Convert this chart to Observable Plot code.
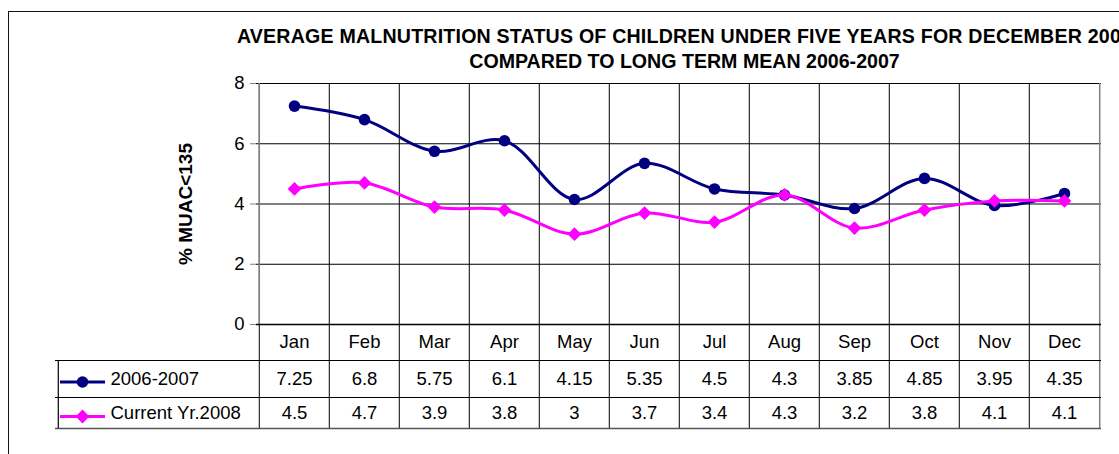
<!DOCTYPE html>
<html>
<head>
<meta charset="utf-8">
<script src="https://cdn.jsdelivr.net/npm/d3@7"></script>
<script src="https://cdn.jsdelivr.net/npm/@observablehq/plot@0.6"></script>
<style>
  html, body { margin: 0; padding: 0; background: #fff; }
  #wrap { position: relative; width: 1119px; height: 454px; overflow: hidden; background: #fff; }
  #border { position: absolute; left: 8px; top: 11px; width: 1300px; height: 600px; border: 1.5px solid #111; box-sizing: border-box; }
  #chart { position: absolute; left: 0; top: 0; }
</style>
</head>
<body>
<div id="wrap"><div id="border"></div><div id="chart"></div></div>
<script>
const months = ["Jan", "Feb", "Mar", "Apr", "May", "Jun", "Jul", "Aug", "Sep", "Oct", "Nov", "Dec"];
const longTermMean = [7.25, 6.8, 5.75, 6.1, 4.15, 5.35, 4.5, 4.3, 3.85, 4.85, 3.95, 4.35];
const currentYear = [4.5, 4.7, 3.9, 3.8, 3, 3.7, 3.4, 4.3, 3.2, 3.8, 4.1, 4.1];
const seriesNames = ["2006-2007", "Current Yr.2008"];
const seriesColors = ["#000080", "#FF00FF"];
const seriesSymbols = ["circle", "diamond2"];
const yTicks = [0, 2, 4, 6, 8];
const titleLine1 = "AVERAGE MALNUTRITION STATUS OF CHILDREN UNDER FIVE YEARS FOR DECEMBER 2008";
const titleLine2 = "COMPARED TO LONG TERM MEAN 2006-2007";
const yLabel = "% MUAC<135";

const seriesValues = [longTermMean, currentYear];
const rows = seriesNames.map((name, k) =>
  months.map((m, i) => ({series: name, month: m, value: seriesValues[k][i]}))
);

const W = 1119, H = 454;
const mL = 256, mR = 18, mT = 83, mB = 130;
const bw = (W - mL - mR) / months.length;
const font = "'Liberation Sans', Arial, sans-serif";
const fs = 18.5;

// table row offsets (below the x-axis line)
const rowLine1 = 36, rowLine2 = 73, rowLine3 = 104;
const rowText = [55, 89];
const rowSym = [57.5, 92];

const marks = [
  // horizontal gridlines
  Plot.ruleY([2, 4, 6, 8], {stroke: "#000", strokeWidth: 1}),
  // vertical category boundaries through plot and table
  Plot.ruleX(months, {x: d => d, dx: -bw / 2, stroke: "#000", strokeWidth: 1, insetBottom: -rowLine3}),
  Plot.ruleX([months[months.length - 1]], {x: d => d, dx: bw / 2, stroke: "#808080", strokeWidth: 1.5, insetBottom: -rowLine3}),
  // left axis line
  Plot.ruleX([months[0]], {x: d => d, dx: -bw / 2, stroke: "#808080", strokeWidth: 1.5, insetBottom: 0}),
  // x axis baseline
  Plot.ruleY([0], {stroke: "#000", strokeWidth: 1.5}),
  // table horizontal lines
  Plot.ruleY([0], {dy: rowLine1, insetLeft: -(mL - 55), stroke: "#000", strokeWidth: 1.2}),
  Plot.ruleY([0], {dy: rowLine2, insetLeft: -(mL - 55), stroke: "#000", strokeWidth: 1.2}),
  Plot.ruleY([0], {dy: rowLine3, insetLeft: -(mL - 55), stroke: "#555", strokeWidth: 1.5}),
  // table left edge
  Plot.ruleX([months[0]], {x: d => d, dx: -bw / 2 - (mL - 55), insetTop: (H - mB - mT) + rowLine1, insetBottom: -rowLine3, stroke: "#000", strokeWidth: 1.2}),
  // y axis
  Plot.axisY({ticks: yTicks, tickSize: 6, tickPadding: 6, fontSize: fs, stroke: "#808080", label: null, fontFamily: font}),
  // month labels
  Plot.text(months, {x: d => d, text: d => d, frameAnchor: "bottom", lineAnchor: "middle", dy: 18, fontSize: fs, fill: "#000"}),
  // y label
  Plot.text([yLabel], {x: null, y: null, text: d => d, frameAnchor: "left", textAnchor: "middle", lineAnchor: "middle", dx: 185 - mL, rotate: -90, fontSize: 19, fontWeight: "bold", fill: "#000"}),
  // title
  Plot.text([titleLine1], {x: null, y: null, text: d => d, frameAnchor: "top", lineAnchor: "middle", dx: 5.5, dy: 36 - mT, fontSize: 19.6, fontWeight: "bold", fill: "#000"}),
  Plot.text([titleLine2], {x: null, y: null, text: d => d, frameAnchor: "top", lineAnchor: "middle", dx: 5.5, dy: 61.5 - mT, fontSize: 19.6, fontWeight: "bold", fill: "#000"})
];

rows.forEach((data, k) => {
  marks.push(
    Plot.line(data, {x: "month", y: "value", stroke: seriesColors[k], strokeWidth: 3, curve: "catmull-rom"}),
    Plot.dot(data, {x: "month", y: "value", symbol: seriesSymbols[k], r: k === 0 ? 5.8 : 6.2, fill: seriesColors[k], stroke: "none"}),
    // table values
    Plot.text(data, {x: "month", text: d => String(d.value), frameAnchor: "bottom", lineAnchor: "middle", dy: rowText[k], fontSize: fs, fill: "#000"}),
    // legend in table
    Plot.ruleY([0], {dy: rowSym[k], insetLeft: -(mL - 60), insetRight: (W - mR) - 105, stroke: seriesColors[k], strokeWidth: 3}),
    Plot.dot([seriesNames[k]], {x: null, y: null, frameAnchor: "bottom-left", dx: 82 - mL, dy: rowSym[k], symbol: seriesSymbols[k], r: k === 0 ? 5.8 : 6.2, fill: seriesColors[k], stroke: "none"}),
    Plot.text([seriesNames[k]], {x: null, y: null, text: d => d, frameAnchor: "bottom-left", textAnchor: "start", lineAnchor: "middle", dx: 110 - mL, dy: rowText[k], fontSize: fs, fill: "#000"})
  );
});

const chart = Plot.plot({
  width: W,
  height: H,
  marginLeft: mL,
  marginRight: mR,
  marginTop: mT,
  marginBottom: mB,
  x: {type: "band", domain: months, padding: 0, axis: null},
  y: {domain: [0, 8], axis: null},
  style: {fontFamily: font, background: "transparent", overflow: "visible"},
  marks
});
chart.querySelectorAll("text").forEach(t => {
  if (t.textContent === titleLine1) t.setAttribute("letter-spacing", "0.2");
});
document.getElementById("chart").appendChild(chart);
</script>
</body>
</html>
